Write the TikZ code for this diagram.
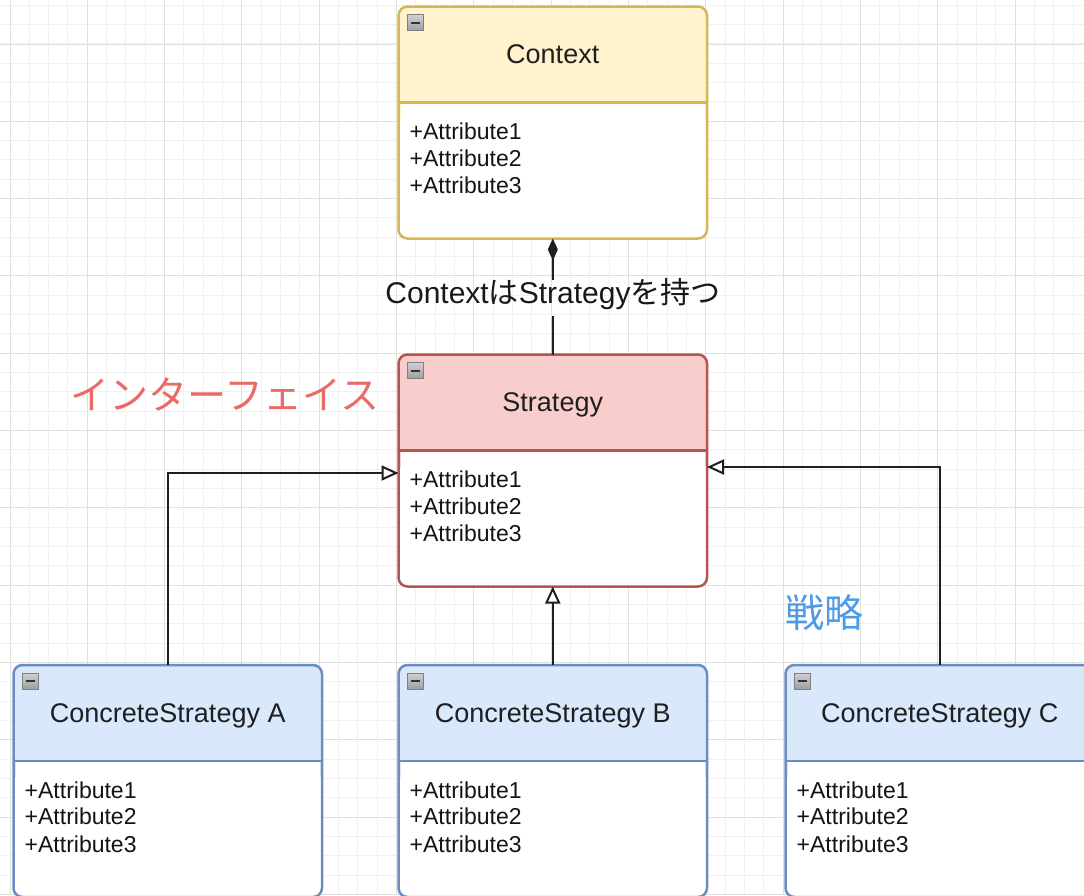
\documentclass[tikz,border=0pt]{standalone}
\usepackage{fontspec}
\setmainfont{Liberation Sans}
\newfontfamily\cjk{Noto Sans CJK JP}
\usetikzlibrary{arrows.meta}
\definecolor{ctxfill}{HTML}{FFF2CC}
\definecolor{ctxline}{HTML}{D6B656}
\definecolor{strfill}{HTML}{F8CECC}
\definecolor{strline}{HTML}{B85450}
\definecolor{csfill}{HTML}{DAE8FC}
\definecolor{csline}{HTML}{6C8EBF}
\definecolor{jpred}{HTML}{EA6B66}
\definecolor{jpblue}{HTML}{4C9AE8}
\definecolor{gminor}{HTML}{F1F1F1}
\definecolor{gmajor}{HTML}{E0E0E0}
\tikzset{
  gridminor/.style={draw=gminor, line width=1pt},
  gridmajor/.style={draw=gmajor, line width=1pt},
  classborder/.style={line width=2.5pt, rounded corners=9pt, minimum width=308.5pt,
    minimum height=232pt, anchor=north west, inner sep=0pt, outer sep=0pt},
  titletext/.style={font=\fontsize{27}{32}\selectfont, text=black!88, anchor=base, inner sep=0pt},
  attrtext/.style={font=\fontsize{23}{27}\selectfont, text=black!92, anchor=base west, inner sep=0pt},
  iconbox/.style={draw=black!50, line width=0.8pt, top color=black!18, bottom color=black!38,
    minimum size=16pt, inner sep=0pt, outer sep=0pt},
  conn/.style={draw=black!88, line width=2pt},
  inherit/.style={conn, -{Triangle[open, length=17pt, width=15pt, fill=white]}},
  compose/.style={conn, {Diamond[length=22pt, width=10pt]}-},
  edgelabel/.style={font=\fontsize{30}{36}\selectfont, text=black!90, inner sep=1pt,
    text height=22pt, text depth=12pt, anchor=base},
  jplabel/.style={font={\cjk\fontsize{39}{45}\selectfont}, inner sep=0pt}
}
\newcommand\umlclass[6]{%
  \fill[white, rounded corners=9pt] (#2,#3) rectangle ++(308.5,232);
  \fill[#4, rounded corners=9pt] (#2,#3) rectangle ++(308.5,116);
  \fill[white] (#2+2,#3+96) rectangle ++(304.5,22);
  \draw[#5, line width=2.5pt] (#2,#3+96) -- ++(308.5,0);
  \node[classborder, draw=#5] (#1) at (#2,#3) {};
  \node[iconbox] (#1-icon) at (#2+16.5,#3+16) {};
  \draw[line width=2pt, black!80] ([xshift=3.5pt]#1-icon.west) -- ([xshift=-3.5pt]#1-icon.east);
  \node[titletext] (#1-title) at (#2+154.25,#3+57) {#6};
  \node[attrtext] (#1-a1) at (#2+11,#3+133) {+Attribute1};
  \node[attrtext] (#1-a2) at (#2+11,#3+159.5) {+Attribute2};
  \node[attrtext] (#1-a3) at (#2+11,#3+187) {+Attribute3};
}
\begin{document}
\begin{tikzpicture}[x=1pt, y=-1pt]
\useasboundingbox (0,0) rectangle (1084,895);
\clip (0,0) rectangle (1084,895);
\fill[white] (0,0) rectangle (1084,895);
% grid
\foreach \i in {0,...,55} { \draw[gridminor] ({10+19.33*\i},0) -- ({10+19.33*\i},895); }
\foreach \j in {0,...,46} { \draw[gridminor] (0,{5.3+19.33*\j}) -- (1084,{5.3+19.33*\j}); }
\foreach \i in {0,...,13} { \draw[gridmajor] ({10+77.32*\i},0) -- ({10+77.32*\i},895); }
\foreach \j in {0,...,11} { \draw[gridmajor] (0,{44+77.32*\j}) -- (1084,{44+77.32*\j}); }
% classes
\umlclass{ctx}{398.5}{6.5}{ctxfill}{ctxline}{Context}
\umlclass{str}{398.5}{354.5}{strfill}{strline}{Strategy}
\umlclass{csa}{13.5}{665}{csfill}{csline}{ConcreteStrategy A}
\umlclass{csb}{398.5}{665}{csfill}{csline}{ConcreteStrategy B}
\umlclass{csc}{785.5}{665}{csfill}{csline}{ConcreteStrategy C}
% association label and connector
\node[edgelabel] (lbl) at (553,303) {Context{\cjk は}Strategy{\cjk を持つ}};
\draw[compose] (ctx.south) -- (lbl.north);
\draw[conn] (lbl.south) -- (str.north);
% inheritance
\draw[inherit] (csa.north) |- ([yshift=-2.5pt]str.west);
\draw[inherit] (csb.north) -- (str.south);
\draw[inherit] (csc.north) |- ([yshift=3.5pt]str.east);
% free labels
\node[jplabel, text=jpred] (iface) at (225,394.5) {インターフェイス};
\node[jplabel, text=jpblue] (senryaku) at (824.5,612.5) {戦略};
\end{tikzpicture}
\end{document}
